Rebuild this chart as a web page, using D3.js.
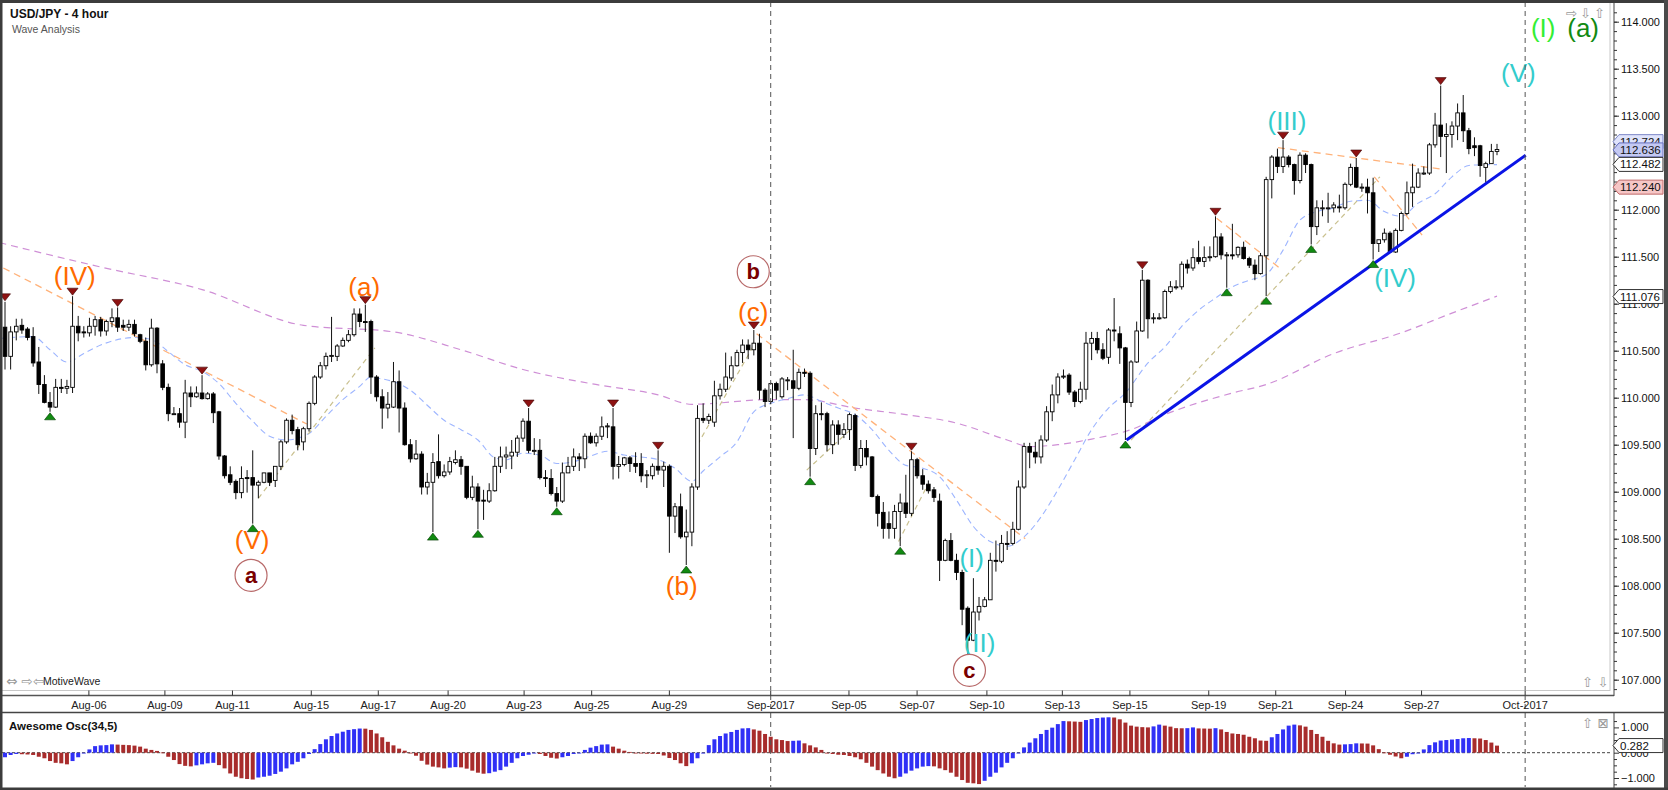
<!DOCTYPE html>
<html>
<head>
<meta charset="utf-8">
<script src="https://cdn.jsdelivr.net/npm/d3@7"></script>
<style>
  body { margin: 0; background: #fff; }
  text { font-family: "Liberation Sans", Arial, sans-serif; }
</style>
</head>
<body>
<div id="chart"></div>
<script>
// USD/JPY 4 hour candles (bar index 0..265)
const opens = [
  110.75,110.44,110.70,110.77,110.73,110.65,110.38,110.14,109.95,109.90,
  110.11,110.10,110.11,110.76,110.70,110.69,110.76,110.83,110.71,110.81,
  110.85,110.77,110.75,110.78,110.67,110.60,110.35,110.74,110.36,110.11,
  109.83,109.83,109.74,110.05,110.01,110.05,109.99,110.04,109.85,109.38,
  109.18,109.11,108.99,109.15,109.15,109.07,109.10,109.20,109.12,109.27,
  109.53,109.76,109.66,109.53,109.67,109.94,110.22,110.34,110.44,110.44,
  110.55,110.61,110.67,110.89,110.81,110.81,110.22,110.01,109.89,109.90,
  110.17,109.89,109.50,109.35,109.40,109.05,109.10,109.32,109.17,109.21,
  109.31,109.34,109.27,108.94,109.05,108.91,108.90,109.01,109.27,109.37,
  109.38,109.42,109.57,109.75,109.44,109.44,109.15,109.14,108.98,108.90,
  109.20,109.27,109.37,109.35,109.59,109.52,109.59,109.69,109.69,109.27,
  109.29,109.36,109.30,109.30,109.17,109.17,109.27,109.23,109.27,108.74,
  108.84,108.52,108.57,109.05,109.78,109.76,109.74,110.02,110.09,110.21,
  110.34,110.48,110.56,110.51,110.58,110.08,109.96,110.15,110.01,110.18,
  110.18,110.10,110.27,110.26,109.46,109.83,109.83,109.50,109.71,109.61,
  109.66,109.81,109.28,109.46,109.37,108.95,108.78,108.66,108.61,108.79,
  108.88,108.77,109.34,109.17,109.08,109.02,108.90,108.27,108.48,108.27,
  108.14,107.76,107.42,107.72,107.78,107.85,108.27,108.26,108.45,108.45,
  108.60,109.05,109.48,109.42,109.37,109.55,109.85,110.03,110.22,110.24,
  110.06,109.96,110.09,110.58,110.63,110.51,110.43,110.72,110.68,110.53,
  109.95,110.38,110.71,111.25,110.84,110.85,110.85,111.13,111.18,111.18,
  111.42,111.38,111.49,111.45,111.50,111.50,111.71,111.52,111.52,111.52,
  111.60,111.48,111.41,111.32,111.51,112.32,112.56,112.46,112.56,112.48,
  112.31,112.58,112.48,111.82,112.02,112.02,112.02,112.03,112.02,112.27,
  112.45,112.24,112.24,112.18,111.64,111.68,111.75,111.55,111.78,111.96,
  112.18,112.24,112.39,112.39,112.69,112.90,112.78,112.80,112.89,113.03,
  112.84,112.68,112.68,112.45,112.49,112.62
]
const highs = [
  111.02,110.76,110.84,110.84,110.75,110.75,110.54,110.24,110.06,110.20,
  110.20,110.19,111.08,110.87,110.76,110.85,110.87,110.86,110.83,110.95,
  110.96,110.83,110.83,110.83,110.68,110.64,110.84,110.75,110.40,110.15,
  109.90,109.89,110.19,110.12,110.12,110.24,110.06,110.06,109.86,109.39,
  109.27,109.13,109.27,109.23,109.44,109.12,109.20,109.20,109.27,109.55,
  109.78,109.82,109.69,109.69,109.96,110.24,110.38,110.48,110.86,110.57,
  110.64,110.72,110.95,110.95,110.99,110.83,110.24,110.09,110.06,110.38,
  110.29,109.95,109.56,109.55,109.43,109.20,109.41,109.61,109.29,109.37,
  109.44,109.38,109.27,109.17,109.09,109.02,109.09,109.37,109.48,109.48,
  109.55,109.60,109.78,109.89,109.57,109.56,109.23,109.24,109.05,109.31,
  109.37,109.46,109.41,109.62,109.63,109.62,109.80,109.73,109.89,109.38,
  109.37,109.38,109.42,109.41,109.23,109.30,109.44,109.32,109.29,108.88,
  108.98,108.81,109.09,109.92,109.94,109.83,110.18,110.15,110.48,110.44,
  110.51,110.62,110.62,110.72,110.68,110.10,110.16,110.17,110.22,110.22,
  110.51,110.31,110.31,110.28,109.92,109.95,109.85,109.76,109.76,109.73,
  109.84,109.83,109.55,109.55,109.38,108.97,108.89,108.79,108.86,108.98,
  109.18,109.43,109.36,109.24,109.12,109.05,108.98,108.50,108.56,108.34,
  108.17,107.78,108.08,107.88,107.88,108.35,108.48,108.54,108.58,108.68,
  109.12,109.52,109.52,109.53,109.60,109.91,110.14,110.26,110.30,110.26,
  110.08,110.17,110.70,110.70,110.70,110.58,110.74,111.06,110.76,110.54,
  110.40,110.81,111.36,111.26,110.90,110.90,111.15,111.24,111.25,111.45,
  111.47,111.59,111.67,111.61,111.61,111.93,111.75,111.55,111.85,111.61,
  111.66,111.50,111.47,111.54,112.35,112.58,112.65,112.74,112.58,112.49,
  112.61,112.60,112.49,112.10,112.10,112.18,112.08,112.16,112.29,112.49,
  112.55,112.28,112.33,112.34,111.68,111.80,111.77,111.80,111.98,112.30,
  112.49,112.44,112.46,112.71,113.03,113.32,112.92,112.94,113.13,113.22,
  112.87,112.77,112.69,112.51,112.70,112.70
]
const lows = [
  110.30,110.30,110.61,110.68,110.61,110.33,110.04,109.94,109.85,109.89,
  110.05,110.04,110.05,110.60,110.64,110.65,110.66,110.65,110.66,110.75,
  110.70,110.71,110.71,110.65,110.58,110.29,110.33,110.26,110.08,109.75,
  109.82,109.68,109.57,109.90,110.00,109.98,109.98,109.73,109.34,109.14,
  109.07,108.92,108.93,108.99,108.66,108.93,109.09,109.06,109.05,109.23,
  109.51,109.61,109.44,109.44,109.64,109.92,110.20,110.30,110.38,110.39,
  110.54,110.59,110.65,110.75,110.70,110.04,109.96,109.67,109.78,109.89,
  109.63,109.49,109.31,109.34,108.97,108.97,108.57,109.14,109.15,109.18,
  109.29,109.18,108.92,108.91,108.60,108.70,108.88,109.00,109.20,109.24,
  109.24,109.37,109.53,109.41,109.39,109.13,109.05,108.96,108.84,108.88,
  109.20,109.22,109.22,109.25,109.51,109.48,109.55,109.57,109.13,109.14,
  109.27,109.21,109.20,109.10,109.04,109.13,109.18,109.05,108.35,108.56,
  108.50,108.22,108.42,109.02,109.73,109.72,109.69,109.98,110.06,110.18,
  110.33,110.37,110.41,110.45,109.98,109.90,109.93,109.98,109.99,110.08,
  109.57,110.08,110.22,109.16,109.39,109.76,109.43,109.40,109.50,109.57,
  109.55,109.22,109.25,109.28,108.94,108.63,108.50,108.50,108.50,108.42,
  108.72,108.74,109.14,109.02,108.98,108.89,108.05,108.26,108.26,108.06,
  107.58,107.26,107.41,107.63,107.77,107.85,108.15,108.24,108.38,108.43,
  108.59,109.03,109.25,109.30,109.30,109.53,109.75,109.94,110.20,110.03,
  109.90,109.94,109.98,110.40,110.47,110.40,110.36,110.60,110.36,109.55,
  109.90,110.37,110.70,110.63,110.79,110.83,110.84,111.11,111.15,111.15,
  111.32,111.35,111.42,111.39,111.45,111.49,111.47,111.17,111.47,111.49,
  111.47,111.38,111.25,111.31,111.08,112.12,112.39,112.39,112.45,112.16,
  112.28,112.39,111.63,111.73,111.93,111.86,111.97,111.97,112.00,112.25,
  112.23,112.19,111.96,111.47,111.55,111.65,111.54,111.54,111.77,111.94,
  112.03,112.23,112.37,112.37,112.66,112.56,112.39,112.66,112.74,112.72,
  112.59,112.57,112.35,112.29,112.49,112.58
]
const closes = [
  110.44,110.70,110.76,110.72,110.64,110.37,110.14,109.95,109.90,110.11,
  110.10,110.12,110.76,110.69,110.69,110.76,110.83,110.71,110.81,110.85,
  110.75,110.75,110.78,110.68,110.60,110.35,110.74,110.36,110.11,109.83,
  109.83,109.74,110.05,110.01,110.05,109.99,110.04,109.84,109.38,109.17,
  109.10,108.99,109.14,109.14,109.07,109.10,109.20,109.10,109.27,109.53,
  109.76,109.65,109.50,109.67,109.94,110.22,110.34,110.44,110.45,110.55,
  110.61,110.67,110.89,110.81,110.80,110.22,110.01,109.89,109.93,110.17,
  109.89,109.50,109.35,109.40,109.05,109.10,109.31,109.17,109.21,109.32,
  109.34,109.27,108.94,109.05,108.90,108.90,109.01,109.27,109.37,109.39,
  109.42,109.57,109.75,109.44,109.44,109.15,109.14,108.98,108.90,109.20,
  109.27,109.37,109.35,109.59,109.52,109.59,109.69,109.70,109.27,109.29,
  109.36,109.30,109.27,109.17,109.18,109.27,109.23,109.27,108.74,108.84,
  108.52,108.57,109.05,109.78,109.76,109.80,110.02,110.09,110.22,110.34,
  110.48,110.56,110.51,110.58,110.08,109.96,110.15,110.08,110.20,110.19,
  110.10,110.27,110.26,109.46,109.83,109.82,109.50,109.71,109.61,109.66,
  109.82,109.28,109.46,109.37,108.95,108.77,108.61,108.61,108.79,108.88,
  108.77,109.34,109.17,109.08,109.01,108.94,108.27,108.48,108.27,108.14,
  107.75,107.42,107.72,107.78,107.85,108.27,108.26,108.45,108.44,108.60,
  109.05,109.48,109.42,109.37,109.55,109.85,110.03,110.22,110.23,110.06,
  109.96,110.09,110.58,110.63,110.51,110.42,110.72,110.71,110.53,109.95,
  110.38,110.71,111.25,110.84,110.85,110.85,111.13,111.18,111.18,111.42,
  111.38,111.49,111.45,111.49,111.50,111.71,111.52,111.52,111.51,111.60,
  111.48,111.41,111.32,111.51,112.32,112.56,112.46,112.56,112.48,112.31,
  112.58,112.48,111.82,112.02,112.02,112.02,112.05,112.02,112.27,112.45,
  112.24,112.24,112.18,111.64,111.68,111.75,111.55,111.78,111.96,112.18,
  112.24,112.39,112.39,112.69,112.90,112.78,112.80,112.89,113.03,112.84,
  112.65,112.66,112.47,112.49,112.62,112.64
]

// Awesome Oscillator (34,5), one value per bar
const aoValues = [
  -0.18,-0.09,-0.05,-0.06,-0.07,-0.09,-0.16,-0.22,-0.33,-0.40,
  -0.42,-0.46,-0.33,-0.18,-0.03,0.13,0.26,0.29,0.30,0.33,
  0.32,0.31,0.30,0.28,0.24,0.16,0.11,0.07,0.01,-0.16,
  -0.29,-0.45,-0.52,-0.54,-0.50,-0.46,-0.42,-0.40,-0.49,-0.62,
  -0.82,-0.95,-1.01,-1.04,-1.06,-0.98,-0.95,-0.91,-0.84,-0.75,
  -0.62,-0.46,-0.36,-0.22,-0.05,0.14,0.34,0.53,0.66,0.76,
  0.83,0.90,0.93,0.955,0.95,0.90,0.76,0.61,0.43,0.29,
  0.16,0.08,-0.03,-0.12,-0.32,-0.47,-0.55,-0.58,-0.62,-0.59,
  -0.57,-0.58,-0.63,-0.71,-0.79,-0.83,-0.81,-0.75,-0.69,-0.55,
  -0.40,-0.22,-0.13,-0.08,-0.03,-0.05,-0.13,-0.20,-0.23,-0.18,
  -0.13,-0.05,0.00,0.11,0.20,0.26,0.32,0.33,0.24,0.16,
  0.08,0.03,-0.01,-0.03,-0.04,-0.045,-0.05,-0.11,-0.21,-0.29,
  -0.42,-0.53,-0.42,-0.22,-0.02,0.30,0.53,0.66,0.76,0.82,
  0.90,0.96,0.97,0.92,0.87,0.74,0.63,0.53,0.50,0.46,
  0.47,0.48,0.37,0.29,0.21,0.11,0.00,-0.05,-0.08,-0.09,
  -0.13,-0.18,-0.26,-0.40,-0.55,-0.69,-0.82,-0.95,-1.01,-0.95,
  -0.82,-0.71,-0.62,-0.55,-0.53,-0.54,-0.62,-0.69,-0.79,-0.95,
  -1.08,-1.19,-1.21,-1.24,-1.11,-0.95,-0.79,-0.58,-0.40,-0.22,
  -0.02,0.21,0.40,0.57,0.74,0.90,0.99,1.13,1.25,1.24,
  1.23,1.22,1.29,1.33,1.37,1.39,1.40,1.39,1.32,1.19,
  1.07,1.03,1.01,1.00,1.04,1.11,1.07,1.03,0.97,0.965,
  0.97,1.00,0.96,0.955,0.95,0.97,0.92,0.82,0.76,0.74,
  0.71,0.63,0.57,0.48,0.47,0.61,0.74,0.92,1.07,1.11,
  1.08,1.03,0.90,0.74,0.63,0.47,0.37,0.32,0.33,0.34,
  0.37,0.365,0.36,0.29,0.14,0.01,-0.08,-0.15,-0.22,-0.16,
  -0.06,0.00,0.13,0.30,0.41,0.48,0.50,0.52,0.54,0.57,
  0.58,0.57,0.56,0.50,0.40,0.28
]

// moving averages, sampled at bar indexes
const maFastIdx = [-1,5,8,11,14,17,23,26,29,32,35,38,41,44,47,50,54,57,60,63,65,66,69,72,75,78,81,84,87,89,92,95,98,101,104,107,110,113,116,119,122,124,127,130,133,136,139,142,145,148,151,154,157,160,163,166,169,172,175,178,181,184,187,190,193,196,199,203,206,209,212,215,218,221,224,227,230,233,236,239,242,245,248,251,254,257,260,263,265]
const maFastVal = [110.63,110.65,110.51,110.38,110.47,110.56,110.64,110.62,110.49,110.35,110.28,110.15,109.94,109.75,109.59,109.55,109.62,109.80,109.98,110.12,110.22,110.21,110.17,110.08,109.92,109.76,109.66,109.55,109.36,109.34,109.41,109.39,109.30,109.32,109.38,109.43,109.39,109.37,109.34,109.25,109.11,109.22,109.37,109.53,109.85,109.94,109.99,110.03,109.96,109.89,109.82,109.66,109.44,109.28,109.25,109.16,108.91,108.63,108.47,108.42,108.52,108.73,109.02,109.34,109.66,109.89,110.05,110.37,110.54,110.76,110.93,111.06,111.18,111.25,111.31,111.57,111.89,111.98,112.02,112.09,112.10,111.98,111.93,112.07,112.17,112.35,112.47,112.48,112.48]
const maSlowIdx = [-1,17,35,53,69,81,92,104,116,122,136,142,151,160,169,178,182,187,193,200,206,218,224,236,248,257,265]
const maSlowVal = [111.65,111.39,111.15,110.77,110.70,110.51,110.30,110.15,110.03,109.93,109.98,109.98,109.89,109.82,109.73,109.55,109.48,109.50,109.56,109.66,109.82,110.05,110.14,110.47,110.69,110.90,111.08]

// wave-count trend lines [idx1, price1, idx2, price2]
const orangeLines = [[-0.3,111.38,53.6,109.72],[133.5,110.68,181.2,108.50],[226.1,112.66,255.4,112.43],[215.2,111.91,226.8,111.36],[243.2,112.35,251.7,111.73]]
const oliveLines = [[45,108.93,65.7,110.53],[123,109.50,133.2,110.58],[142.4,109.23,150.7,109.69],[158.7,108.47,163.7,109.05],[200,109.55,244.2,112.35]]
const trendLine = [199.2,109.55,270.1,112.58]

// swing markers (bar indexes)
const swingHighs = [0,12,20,35,64,93,108,116,133,161,202,215,227,240,255]
const swingLows = [8,44,76,84,98,121,143,159,171,199,217,224,232,243]

// wave labels
const waveText = ["(IV)","(a)","(V)","(b)","(c)","(I)","(II)","(III)","(IV)","(V)","(I)","(a)"]
const waveIdx = [12.4,63.8,43.9,120.2,132.9,171.7,173.1,227.7,246.9,268.8,273.2,280.3]
const wavePrice = [111.29,111.18,108.49,108.0,110.91,108.29,107.39,112.94,111.27,113.45,113.93,113.93]
const waveDegree = ["minor","minor","minor","minor","minor","minute","minute","minute","minute","minute","inter","primary"]
const circleText = ["a","b","c"]
const circleIdx = [43.7,132.9,171.3]
const circlePrice = [108.11,111.34,107.10]

// time axis
const tickLabels = ["Aug-06","Aug-09","Aug-11","Aug-15","Aug-17","Aug-20","Aug-23","Aug-25","Aug-29","Sep-2017","Sep-05","Sep-07","Sep-10","Sep-13","Sep-15","Sep-19","Sep-21","Sep-24","Sep-27","Oct-2017"]
const tickIdx = [14.9,28.4,40.4,54.4,66.3,78.7,92.2,104.2,118,136,149.9,162,174.4,187.8,199.8,213.8,225.7,238.1,251.6,270]

// price tags on the right axis
const priceTags = [112.724,112.636,112.482,112.240,111.076]
const oscTag = 0.282

const degreeColor = { minor:"#ff6a00", minute:"#33cccc", inter:"#33ee33", primary:"#128a12" }
const tagFill = ["#dfe3fb","#c4c9f2","#ffffff","#f6c6c6","#ffffff"]
const tagStroke = ["#7d88c8","#6670c0","#333333","#c06a6a","#333333"]

const W = 1668, H = 790
const plotR = 1610, axisX = 1614
const svg = d3.select("#chart").append("svg").attr("width", W).attr("height", H)

const x = d3.scaleLinear().domain([0, 265]).range([5, 1497])
const y = d3.scaleLinear().domain([107, 114]).range([679.7, 21.7])
const yo = d3.scaleLinear().domain([-1, 1]).range([778, 727.4])

const defs = svg.append("defs")
defs.append("clipPath").attr("id","clipMain").append("rect").attr("x",2).attr("y",2).attr("width",plotR-2).attr("height",688)
defs.append("clipPath").attr("id","clipOsc").append("rect").attr("x",2).attr("y",713).attr("width",plotR-2).attr("height",74)

const main = svg.append("g").attr("clip-path","url(#clipMain)")
const osc = svg.append("g").attr("clip-path","url(#clipOsc)")

// month separators (dashed) through both panels
tickLabels.forEach((t, i) => {
  if (!t.includes("2017")) return
  svg.append("line")
    .attr("x1", x(tickIdx[i])).attr("x2", x(tickIdx[i]))
    .attr("y1", 2).attr("y2", 787)
    .attr("stroke","#555").attr("stroke-width",1).attr("stroke-dasharray","5,4")
})

// moving averages
const maLine = d3.line().x(d => x(d[0])).y(d => y(d[1])).curve(d3.curveMonotoneX)
main.append("path").attr("d", maLine(d3.zip(maSlowIdx, maSlowVal)))
  .attr("fill","none").attr("stroke","#cf8fd6").attr("stroke-width",1.2).attr("stroke-dasharray","7,5")
main.append("path").attr("d", maLine(d3.zip(maFastIdx, maFastVal)))
  .attr("fill","none").attr("stroke","#9db5ff").attr("stroke-width",1.1).attr("stroke-dasharray","6,4")

// wave trend lines
function segs(list, color, dash, w) {
  main.selectAll(null).data(list).join("line")
    .attr("x1", d => x(d[0])).attr("y1", d => y(d[1]))
    .attr("x2", d => x(d[2])).attr("y2", d => y(d[3]))
    .attr("stroke", color).attr("stroke-width", w).attr("stroke-dasharray", dash)
}
segs(oliveLines, "#c9c08e", "5,4", 1.2)
segs(orangeLines, "#ffb27a", "7,5", 1.3)

// candles
const bars = d3.range(opens.length)
main.selectAll("line.wick").data(bars).join("line").attr("class","wick")
  .attr("x1", i => x(i)).attr("x2", i => x(i))
  .attr("y1", i => y(highs[i])).attr("y2", i => y(lows[i]))
  .attr("stroke","#111").attr("stroke-width",1)
main.selectAll("rect.body").data(bars).join("rect").attr("class","body")
  .attr("x", i => x(i) - 1.8)
  .attr("width", 3.6)
  .attr("y", i => y(Math.max(opens[i], closes[i])))
  .attr("height", i => Math.max(1, Math.abs(y(opens[i]) - y(closes[i]))))
  .attr("fill", i => closes[i] >= opens[i] ? "#fff" : "#000")
  .attr("stroke","#000").attr("stroke-width",0.9)

// thick blue trend line
main.append("line")
  .attr("x1", x(trendLine[0])).attr("y1", y(trendLine[1]))
  .attr("x2", x(trendLine[2])).attr("y2", y(trendLine[3]))
  .attr("stroke","#0a14e6").attr("stroke-width",3)

// swing markers
main.selectAll("path.hi").data(swingHighs).join("path").attr("class","hi")
  .attr("d", i => { const cx = x(i), t = y(highs[i]) - 1; return `M${cx-5.5},${t-7}L${cx+5.5},${t-7}L${cx},${t}Z` })
  .attr("fill","#8e1212").attr("stroke","#3a0000").attr("stroke-width",0.6)
main.selectAll("path.lo").data(swingLows).join("path").attr("class","lo")
  .attr("d", i => { const cx = x(i), b = y(lows[i]) + 1; return `M${cx-5.5},${b+7}L${cx+5.5},${b+7}L${cx},${b}Z` })
  .attr("fill","#118a11").attr("stroke","#003a00").attr("stroke-width",0.6)

// wave labels
main.selectAll("text.wave").data(waveText).join("text").attr("class","wave")
  .attr("x", (d,i) => x(waveIdx[i])).attr("y", (d,i) => y(wavePrice[i]) + 9)
  .attr("text-anchor","middle").style("font-size","26px")
  .attr("fill", (d,i) => degreeColor[waveDegree[i]])
  .text(d => d)
circleText.forEach((t, i) => {
  const cx = x(circleIdx[i]), cy = y(circlePrice[i])
  main.append("circle").attr("cx", cx).attr("cy", cy).attr("r", 16)
    .attr("fill","#fff").attr("stroke","#b86a6a").attr("stroke-width",1.2)
  main.append("text").attr("x", cx).attr("y", cy + 7.5)
    .attr("text-anchor","middle").style("font-size","22px").style("font-weight","bold")
    .attr("fill","#7a0000").text(t)
})

// oscillator histogram
osc.append("line").attr("x1",2).attr("x2",plotR).attr("y1",yo(0)).attr("y2",yo(0))
  .attr("stroke","#444").attr("stroke-width",1).attr("stroke-dasharray","3,2")
osc.selectAll("rect.ao").data(aoValues).join("rect").attr("class","ao")
  .attr("x", (d,i) => x(i) - 2).attr("width", 4)
  .attr("y", d => Math.min(yo(0), yo(d)))
  .attr("height", d => Math.max(0.8, Math.abs(yo(d) - yo(0))))
  .attr("fill", (d,i) => (i === 0 || d >= aoValues[i-1]) ? "#3030f6" : "#a82c2c")

// frames and separators
svg.append("line").attr("x1",2).attr("x2",plotR).attr("y1",690.5).attr("y2",690.5).attr("stroke","#c8c8c8")
svg.append("line").attr("x1",plotR).attr("x2",plotR).attr("y1",2).attr("y2",691).attr("stroke","#c8c8c8")
svg.append("line").attr("x1",2).attr("x2",axisX).attr("y1",695.5).attr("y2",695.5).attr("stroke","#555").attr("stroke-width",1.3)
svg.append("line").attr("x1",0).attr("x2",W).attr("y1",712.5).attr("y2",712.5).attr("stroke","#444").attr("stroke-width",1.5)
svg.append("line").attr("x1",axisX).attr("x2",axisX).attr("y1",0).attr("y2",696).attr("stroke","#444")
svg.append("line").attr("x1",axisX).attr("x2",axisX).attr("y1",712).attr("y2",788).attr("stroke","#444")
svg.append("rect").attr("x",0).attr("y",0).attr("width",W).attr("height",3).attr("fill","#3c3c3c")
svg.append("rect").attr("x",0).attr("y",0).attr("width",2.5).attr("height",H).attr("fill","#3c3c3c")
svg.append("rect").attr("x",1664).attr("y",0).attr("width",4).attr("height",H).attr("fill","#4a4a4a")
svg.append("rect").attr("x",0).attr("y",787.5).attr("width",W).attr("height",2.5).attr("fill","#3c3c3c")

// time axis
const tAxis = svg.append("g")
tickIdx.forEach((t, i) => {
  tAxis.append("line").attr("x1", x(t)).attr("x2", x(t)).attr("y1", 690.5).attr("y2", 695.5).attr("stroke","#333")
  tAxis.append("text").attr("x", x(t)).attr("y", 708.5).attr("text-anchor","middle")
    .style("font-size","11px").attr("fill","#222").text(tickLabels[i])
})

// price axis
const pAxis = svg.append("g").attr("transform", `translate(${axisX},0)`)
  .call(d3.axisRight(y).tickValues(d3.range(107, 114.01, 0.5)).tickFormat(d3.format(".3f")).tickSize(5).tickPadding(2))
pAxis.select(".domain").remove()
pAxis.selectAll("text").style("font-size","11px").style("font-family","'Liberation Sans', Arial, sans-serif").attr("fill","#111")
pAxis.selectAll(".tick line").attr("stroke","#333")
const pMinor = svg.append("g").attr("transform", `translate(${axisX},0)`)
  .call(d3.axisRight(y).tickValues(d3.range(106.9, 114.25, 0.1).filter(v => y(v) > 4 && y(v) < 692)).tickFormat("").tickSize(3))
pMinor.select(".domain").remove()
pMinor.selectAll(".tick line").attr("stroke","#333")

// oscillator axis
const oAxis = svg.append("g").attr("transform", `translate(${axisX},0)`)
  .call(d3.axisRight(yo).tickValues([-1, 0, 1]).tickFormat(d3.format(".3f")).tickSize(5).tickPadding(2))
oAxis.select(".domain").remove()
oAxis.selectAll("text").style("font-size","11px").style("font-family","'Liberation Sans', Arial, sans-serif").attr("fill","#111")
oAxis.selectAll(".tick line").attr("stroke","#333")
const oMinor = svg.append("g").attr("transform", `translate(${axisX},0)`)
  .call(d3.axisRight(yo).tickValues([-1.25,-0.75,-0.5,-0.25,0.25,0.5,0.75,1.25]).tickFormat("").tickSize(3))
oMinor.select(".domain").remove()
oMinor.selectAll(".tick line").attr("stroke","#333")

// value tags
function tag(yy, label, fill, stroke) {
  const g = svg.append("g")
  g.append("path")
    .attr("d", `M${axisX-1},${yy}L${axisX+5},${yy-7}L${1663},${yy-7}L${1663},${yy+7}L${axisX+5},${yy+7}Z`)
    .attr("fill", fill).attr("stroke", stroke).attr("stroke-width",1)
  g.append("text").attr("x", axisX + 6).attr("y", yy + 4)
    .style("font-size","11.5px").attr("fill","#111").text(label)
}
priceTags.forEach((p, i) => tag(y(p), d3.format(".3f")(p), tagFill[i], tagStroke[i]))
tag(yo(oscTag), d3.format(".3f")(oscTag), "#fff", "#333")

// header texts
svg.append("text").attr("x",10).attr("y",18).style("font-size","12px").style("font-weight","bold").attr("fill","#111").text("USD/JPY - 4 hour")
svg.append("text").attr("x",12).attr("y",33).style("font-size","10.5px").attr("fill","#555").text("Wave Analysis")
svg.append("text").attr("x",9).attr("y",730).style("font-size","11.5px").style("font-weight","bold").attr("fill","#111").text("Awesome Osc(34,5)")
svg.append("text").attr("x",43).attr("y",685).style("font-size","10.5px").attr("fill","#222").text("MotiveWave")

// small control glyphs
const glyph = (gx, gy, s) => svg.append("text").attr("x",gx).attr("y",gy)
  .style("font-family","'DejaVu Sans', sans-serif").style("font-size","13.5px").attr("fill","#9a9a9a").text(s)
glyph(6, 686, "\u21D4 \u21E8\u21E6")
glyph(1566, 18, "\u21E8\u2009\u21E9\u2009\u21E7")
glyph(1582, 687, "\u21E7 \u21E9")
glyph(1582, 728, "\u21E7 \u22A0")
</script>
</body>
</html>
